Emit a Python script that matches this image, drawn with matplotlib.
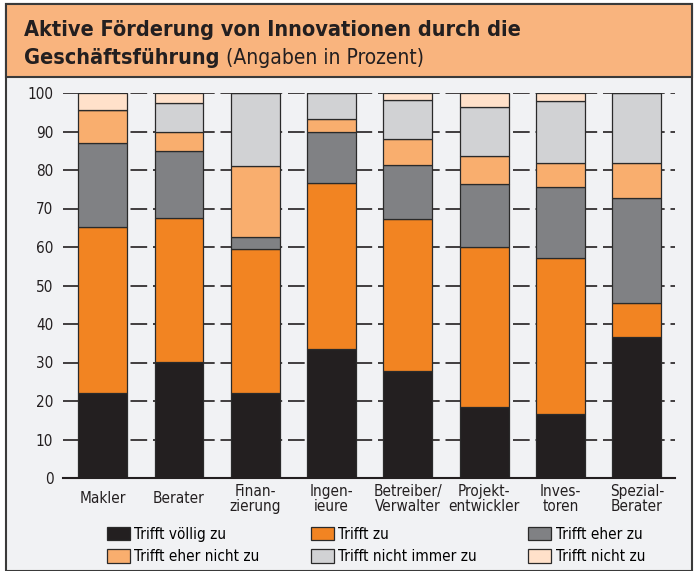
import numpy as np
import matplotlib
matplotlib.use('Agg')
import matplotlib.pyplot as plt
from matplotlib.patches import Rectangle

categories = ["Makler", "Berater", "Finan-\nzierung", "Ingen-\nieure", "Betreiber/\nVerwalter",
              "Projekt-\nentwickler", "Inves-\ntoren", "Spezial-\nBerater"]
series_names = ["Trifft völlig zu", "Trifft zu", "Trifft eher zu",
                "Trifft eher nicht zu", "Trifft nicht immer zu", "Trifft nicht zu"]
voellig = [22.0, 30.1, 22.1, 33.6, 27.8, 18.4, 16.6, 36.6]
zu = [43.2, 37.4, 37.3, 43.0, 39.6, 41.7, 40.5, 8.9]
eher_zu = [21.8, 17.5, 3.1, 13.4, 13.8, 16.3, 18.5, 27.3]
eher_nicht = [8.7, 5.0, 18.6, 3.2, 6.8, 7.3, 6.2, 9.0]
nicht_immer = [0.0, 7.5, 18.9, 6.8, 10.3, 12.7, 16.1, 18.2]
nicht_zu = [4.3, 2.5, 0.0, 0.0, 1.7, 3.6, 2.1, 0.0]
colors = ["#231F20", "#F28422", "#808184", "#F9AE6E", "#D1D2D4", "#FFE1CA"]

plt.rcParams['font.family'] = ['DejaVu Sans']
plt.rcParams['font.stretch'] = 'condensed'

fig = plt.figure(figsize=(6.96, 5.71), dpi=100)
fig.patch.set_facecolor('white')

# frame: grey chart background + orange title band
fig.add_artist(Rectangle((6/696, 0), 686/696, 567/571, transform=fig.transFigure,
                         facecolor='#F1F2F4', edgecolor='#3a3a3a', lw=1.5, zorder=0))
fig.add_artist(Rectangle((6/696, 1 - 77/571), 686/696, 73/571, transform=fig.transFigure,
                         facecolor='#F9B47E', edgecolor='#3a3a3a', lw=1.5, zorder=0))

fig.text(24/696, 1 - 36/571, "Aktive Förderung von Innovationen durch die",
         fontsize=15.6, fontweight='bold', color='#231F20', va='baseline')
t2 = fig.text(24/696, 1 - 64/571, "Geschäftsführung", fontsize=15.6, fontweight='bold',
              color='#231F20', va='baseline')
fig.canvas.draw()
bb = t2.get_window_extent()
fig.text(bb.x1 / fig.bbox.width, 1 - 64/571, " (Angaben in Prozent)", fontsize=15,
         color='#231F20', va='baseline')

ax = fig.add_axes([63/696, 1 - 478/571, 612/696, 385/571])
ax.set_facecolor('none')

x = np.arange(len(categories))
data = [voellig, zu, eher_zu, eher_nicht, nicht_immer, nicht_zu]
bottom = np.zeros(len(categories))
handles = []
for vals, name, c in zip(data, series_names, colors):
    h = ax.bar(x, vals, 0.64, bottom=bottom, color=c, edgecolor='#2a2a2a',
               linewidth=0.9, label=name, zorder=3)
    handles.append(h)
    bottom += np.array(vals)

ax.set_xlim(-0.52, 7.5)
ax.set_ylim(0, 100)
ax.set_yticks(range(0, 101, 10))
ax.yaxis.grid(True, color='#231F20', linestyle=(0, (10, 3.5)), linewidth=1.2, zorder=1)
ax.set_axisbelow(True)
for s in ['left', 'right', 'top']:
    ax.spines[s].set_visible(False)
ax.spines['bottom'].set_color('#231F20')
ax.spines['bottom'].set_linewidth(1.5)
ax.spines['bottom'].set_zorder(4)

ax.set_xticks(x)
ax.set_xticklabels(categories, fontsize=11, color='#231F20', linespacing=0.95)
for lab in ax.get_xticklabels():
    lab.set_va('center')
ax.tick_params(axis='x', length=0, pad=15)
ax.tick_params(axis='y', length=0, pad=7, labelsize=11, labelcolor='#231F20')

order = [0, 3, 1, 4, 2, 5]
leg = fig.legend([handles[i] for i in order], [series_names[i] for i in order],
                 ncol=3, loc='center', bbox_to_anchor=(376/696, 1 - 545.5/571),
                 frameon=False, fontsize=11, handlelength=1.5, handleheight=1.0,
                 handletextpad=0.3, columnspacing=3.35, labelspacing=0.5)

plt.savefig('out.png', dpi=100)
